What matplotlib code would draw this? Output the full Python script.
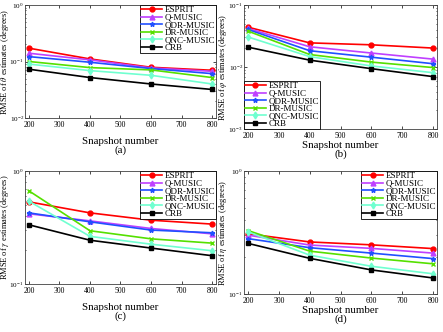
import matplotlib
matplotlib.use("Agg")
import matplotlib.pyplot as plt
from matplotlib.ticker import LogLocator, NullFormatter

plt.rcParams["font.family"] = ["Liberation Serif", "DejaVu Serif"]
plt.rcParams["mathtext.fontset"] = "stix"

# === dane ===
snapshots = [200, 400, 600, 800]
methods = ["ESPRIT", "Q-MUSIC", "QDR-MUSIC", "DR-MUSIC", "QNC-MUSIC", "CRB"]

# wiersze: ESPRIT, Q-MUSIC, QDR-MUSIC, DR-MUSIC, QNC-MUSIC, CRB
rmse_theta = [
    [0.172, 0.111, 0.079, 0.070],
    [0.140, 0.107, 0.077, 0.067],
    [0.122, 0.097, 0.075, 0.061],
    [0.100, 0.078, 0.071, 0.052],
    [0.090, 0.069, 0.057, 0.040],
    [0.073, 0.052, 0.040, 0.032],
]
rmse_phi = [
    [0.0439, 0.0245, 0.0228, 0.0202],
    [0.0418, 0.0212, 0.0168, 0.0134],
    [0.0403, 0.0183, 0.0144, 0.0113],
    [0.0379, 0.0159, 0.0120, 0.0098],
    [0.0305, 0.0147, 0.0104, 0.0081],
    [0.0209, 0.0129, 0.0094, 0.0070],
]
rmse_gamma = [
    [0.533, 0.426, 0.367, 0.339],
    [0.418, 0.362, 0.310, 0.278],
    [0.426, 0.355, 0.300, 0.284],
    [0.667, 0.296, 0.251, 0.230],
    [0.540, 0.264, 0.225, 0.197],
    [0.334, 0.244, 0.208, 0.178],
]
rmse_eta = [
    [0.309, 0.265, 0.251, 0.234],
    [0.301, 0.250, 0.235, 0.215],
    [0.282, 0.238, 0.215, 0.194],
    [0.328, 0.223, 0.196, 0.176],
    [0.320, 0.207, 0.168, 0.146],
    [0.258, 0.195, 0.157, 0.135],
]

colors = ["#ff0000", "#bf40ff", "#2050ff", "#55e000", "#70ffd0", "#000000"]
markers = ["o", "^", "*", "x", "d", "s"]

panels = [
    (rmse_theta, r"RMSE of $\theta$ estimates (degrees)", (1e-2, 1e0), "upper right", "(a)"),
    (rmse_phi, r"RMSE of $\varphi$ estimates (degrees)", (1e-3, 1e-1), "lower left", "(b)"),
    (rmse_gamma, r"RMSE of $\gamma$ estimates (degrees)", (1e-1, 1e0), "upper right", "(c)"),
    (rmse_eta, r"RMSE of $\eta$ estimates (degrees)", (1e-1, 1e0), "upper right", "(d)"),
]

# układ w pikselach: left, top, right, bottom, środek ylabel, góra xlabel
W, H = 443, 332
boxes = [
    (25, 5, 216, 118, 5.3, 137),
    (244, 5, 437, 129, 223, 141),
    (25, 171, 216, 284, 5.3, 303),
    (244, 171, 437, 294, 223, 306),
]

fig = plt.figure(figsize=(W / 100, H / 100), dpi=100)

for (data, ylabel, ylim, loc, tag), (x0, y0, x1, y1, ylx, xly) in zip(panels, boxes):
    w, h = x1 - x0, y1 - y0
    ax = fig.add_axes([x0 / W, 1 - y1 / H, w / W, h / H])
    for row, name, c, m in zip(data, methods, colors, markers):
        ax.plot(snapshots, row, color=c, marker=m, markersize=3.5,
                linewidth=1.2, markeredgewidth=1.0, label=name)
    ax.set_yscale("log")
    ax.set_ylim(*ylim)
    ax.set_xlim(187, 813)
    ax.set_xticks(range(200, 801, 100))
    ax.yaxis.set_major_locator(LogLocator(base=10))
    ax.yaxis.set_minor_locator(LogLocator(base=10, subs=range(2, 10)))
    ax.yaxis.set_minor_formatter(NullFormatter())
    ax.tick_params(which="both", direction="in", labelsize=5.2, pad=0.8,
                   top=True, right=True, length=2, width=0.5)
    ax.tick_params(axis="x", pad=2.5, labelsize=5.6)
    ax.tick_params(which="minor", length=1)
    for s in ax.spines.values():
        s.set_linewidth(0.6)
        s.set_color("#404040")
    ax.set_ylabel(ylabel, fontsize=6.0, va="center")
    ax.yaxis.set_label_coords((ylx - x0) / w, 0.5)
    ax.set_xlabel("Snapshot number\n" + tag, fontsize=7.8, linespacing=0.95)
    ax.xaxis.set_label_coords(0.5, (y1 - xly) / h)
    leg = ax.legend(loc=loc, fontsize=6.5, frameon=True, fancybox=False,
                    edgecolor="black", borderpad=0.1, labelspacing=-0.08,
                    handlelength=2.3, handletextpad=0.3, borderaxespad=0.0,
                    framealpha=1.0)
    leg.get_frame().set_linewidth(0.6)

fig.savefig("out.png", dpi=100)
